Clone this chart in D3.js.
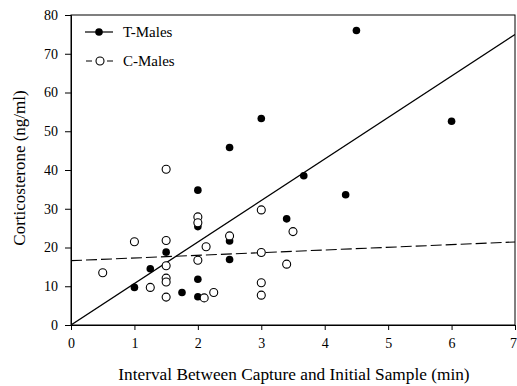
<!DOCTYPE html>
<html>
<head>
<meta charset="utf-8">
<script src="https://cdn.jsdelivr.net/npm/d3@7"></script>
<style>
  html, body { margin: 0; padding: 0; background: #fff; }
  svg { display: block; font-family: "Liberation Serif", "Times New Roman", serif; }
</style>
</head>
<body>
<svg id="chart" width="517" height="386"></svg>
<script>
// Testosterone-implanted males: [interval (min), corticosterone (ng/ml)]
const tMales = [
  [1.0, 9.7], [1.25, 14.5], [1.5, 18.8], [1.75, 8.4], [2.0, 7.3], [2.0, 11.8],
  [2.0, 25.4], [2.0, 34.8], [2.5, 16.9], [2.5, 21.7], [2.5, 45.8], [3.0, 53.3],
  [3.4, 27.4], [3.67, 38.5], [4.33, 33.6], [4.5, 76.0], [6.0, 52.6]
];
// Control males
const cMales = [
  [0.5, 13.5], [1.0, 21.5], [1.25, 9.7], [1.5, 40.2], [1.5, 21.8], [1.5, 15.3],
  [1.5, 12.1], [1.5, 11.1], [1.5, 7.2], [2.0, 27.9], [2.0, 26.4], [2.0, 16.7],
  [2.1, 7.0], [2.13, 20.2], [2.25, 8.4], [2.5, 23.0], [3.0, 29.7], [3.0, 18.7],
  [3.0, 10.9], [3.0, 7.7], [3.4, 15.7], [3.5, 24.1]
];
// Regression lines: [intercept, slope]
const tFit = [0.0, 10.71];
const cFit = [16.6, 0.69];

const xTicks = [0, 1, 2, 3, 4, 5, 6, 7];
const yTicks = [0, 10, 20, 30, 40, 50, 60, 70, 80];
const seriesNames = ["T-Males", "C-Males"];
const xTitle = "Interval Between Capture and Initial Sample (min)";
const yTitle = "Corticosterone (ng/ml)";

const margin = { left: 71, right: 2, top: 15, bottom: 61 };
const W = 517, H = 386;
const svg = d3.select("#chart");

const x = d3.scaleLinear().domain([0, 7]).range([margin.left, W - margin.right]);
const y = d3.scaleLinear().domain([0, 80]).range([H - margin.bottom, margin.top]);

// frame
svg.append("rect")
  .attr("x", x(0)).attr("y", y(80))
  .attr("width", x(7) - x(0)).attr("height", y(0) - y(80))
  .attr("fill", "none").attr("stroke", "#000").attr("stroke-width", 1);

// axes
const xAxis = svg.append("g")
  .attr("transform", `translate(0,${y(0)})`)
  .call(d3.axisBottom(x).tickValues(xTicks).tickFormat(d3.format("d")).tickSizeOuter(0).tickSize(5).tickPadding(8));
const yAxis = svg.append("g")
  .attr("transform", `translate(${x(0)},0)`)
  .call(d3.axisLeft(y).tickValues(yTicks).tickFormat(d3.format("d")).tickSizeOuter(0).tickSize(6).tickPadding(7));
[xAxis, yAxis].forEach(g => {
  g.selectAll("text").attr("font-size", 14).attr("fill", "#000")
    .attr("font-family", "Liberation Serif, serif");
  g.selectAll("line, path").attr("stroke", "#000");
});
// last x label sits at the right edge of the canvas; nudge it inside
xAxis.selectAll(".tick text").filter(d => d === 7).attr("dx", -2);

// regression lines, kept inside the frame
svg.append("clipPath").attr("id", "plotclip").append("rect")
  .attr("x", x(0)).attr("y", y(80)).attr("width", x(7) - x(0)).attr("height", y(0) - y(80));

svg.append("line")
  .attr("clip-path", "url(#plotclip)")
  .attr("x1", x(0)).attr("y1", y(tFit[0]))
  .attr("x2", x(7)).attr("y2", y(tFit[0] + tFit[1] * 7))
  .attr("stroke", "#000").attr("stroke-width", 1.3);

svg.append("line")
  .attr("clip-path", "url(#plotclip)")
  .attr("x1", x(0)).attr("y1", y(cFit[0]))
  .attr("x2", x(7)).attr("y2", y(cFit[0] + cFit[1] * 7))
  .attr("stroke", "#000").attr("stroke-width", 1.1).attr("stroke-dasharray", "11,4");

// points
svg.append("g").selectAll("circle").data(tMales).join("circle")
  .attr("cx", d => x(d[0])).attr("cy", d => y(d[1])).attr("r", 3.8)
  .attr("fill", "#000");

svg.append("g").selectAll("circle").data(cMales).join("circle")
  .attr("cx", d => x(d[0])).attr("cy", d => y(d[1])).attr("r", 4)
  .attr("fill", "#fff").attr("stroke", "#000").attr("stroke-width", 1.1);

// legend
const lg = svg.append("g");
lg.append("line").attr("x1", 85).attr("x2", 113).attr("y1", 32).attr("y2", 32)
  .attr("stroke", "#000").attr("stroke-width", 1.2);
lg.append("circle").attr("cx", 99).attr("cy", 32).attr("r", 3.8).attr("fill", "#000");
lg.append("text").attr("x", 123).attr("y", 37).attr("font-size", 15).text(seriesNames[0]);

lg.append("line").attr("x1", 86).attr("x2", 113).attr("y1", 61).attr("y2", 61)
  .attr("stroke", "#000").attr("stroke-width", 1.1).attr("stroke-dasharray", "6,15");
lg.append("circle").attr("cx", 100).attr("cy", 61).attr("r", 4)
  .attr("fill", "#fff").attr("stroke", "#000").attr("stroke-width", 1.1);
lg.append("text").attr("x", 123).attr("y", 66).attr("font-size", 15).text(seriesNames[1]);

// axis titles
svg.append("text")
  .attr("x", (x(0) + x(7)) / 2 + 1).attr("y", 380)
  .attr("text-anchor", "middle").attr("font-size", 17.3).text(xTitle);
svg.append("text")
  .attr("transform", `translate(25,${(y(0) + y(80)) / 2 - 2}) rotate(-90)`)
  .attr("text-anchor", "middle").attr("font-size", 17).text(yTitle);
</script>
</body>
</html>
